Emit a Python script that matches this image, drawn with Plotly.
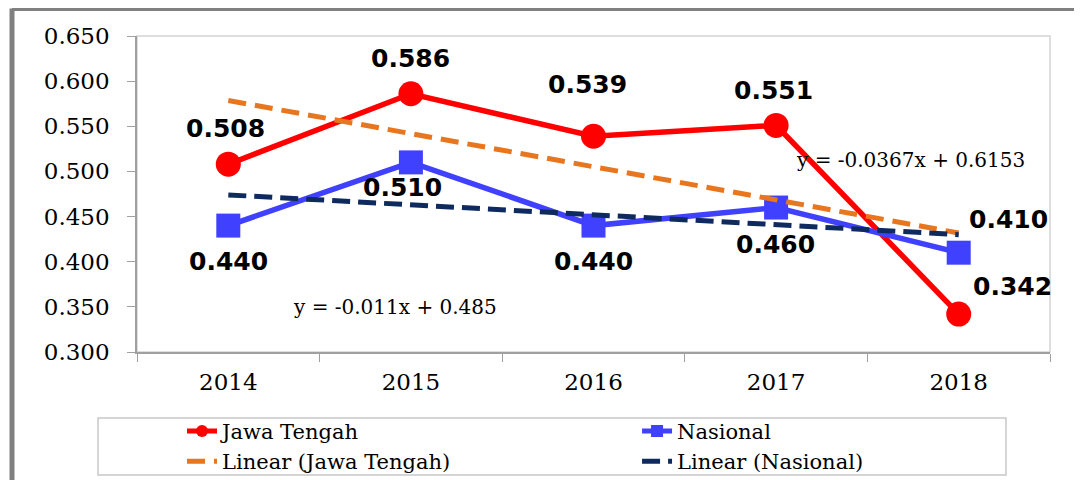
import numpy as np
import plotly.graph_objects as go

years = ["2014", "2015", "2016", "2017", "2018"]
jawa_tengah = [0.508, 0.586, 0.539, 0.551, 0.342]
nasional = [0.440, 0.510, 0.440, 0.460, 0.410]

# label offsets (px) relative to each point
jt_label_shift = [(-3, 36), (0, 35), (-6, 52), (-3, 35), (54, 28)]
na_label_shift = [(0, -36), (-8, -25), (0, -36), (-1, -37), (50, 33)]

xi = np.arange(1, len(years) + 1)
jt_fit = np.polyfit(xi, jawa_tengah, 1)
na_fit = np.polyfit(xi, nasional, 1)
jt_trend = np.polyval(jt_fit, xi)
na_trend = np.polyval(na_fit, xi)

RED = "#FF0000"
BLUE = "#4040FF"
ORANGE = "#E8761E"
NAVY = "#0E2A5F"

fig = go.Figure()
fig.add_trace(go.Scatter(x=years, y=jawa_tengah, name="Jawa Tengah", mode="lines+markers",
                         line=dict(color=RED, width=5.5), legend="legend",
                         marker=dict(symbol="circle", size=25, color=RED)))
fig.add_trace(go.Scatter(x=years, y=nasional, name="Nasional", mode="lines+markers",
                         line=dict(color=BLUE, width=5.5), legend="legend2",
                         marker=dict(symbol="square", size=24, color=BLUE)))
fig.add_trace(go.Scatter(x=years, y=jt_trend, name="Linear (Jawa Tengah)", mode="lines",
                         legend="legend",
                         line=dict(color=ORANGE, width=5, dash="18px,9px")))
fig.add_trace(go.Scatter(x=years, y=na_trend, name="Linear (Nasional)", mode="lines",
                         legend="legend2",
                         line=dict(color=NAVY, width=5, dash="18px,8px")))

LABEL_FONT = dict(family="DejaVu Sans", size=25, color="black", weight="bold")
annotations = []
for i, (v, (dx, dy)) in enumerate(zip(jawa_tengah, jt_label_shift)):
    annotations.append(dict(x=i, y=v, xref="x", yref="y", text=f"{v:.3f}", showarrow=False,
                            xshift=dx, yshift=dy, xanchor="center", yanchor="middle", font=LABEL_FONT))
for i, (v, (dx, dy)) in enumerate(zip(nasional, na_label_shift)):
    annotations.append(dict(x=i, y=v, xref="x", yref="y", text=f"{v:.3f}", showarrow=False,
                            xshift=dx, yshift=dy, xanchor="center", yanchor="middle", font=LABEL_FONT))

def eq_text(fit, nd):
    return f"y = {fit[0]:.{nd}f}x + {fit[1]:.{nd}f}"

EQ_FONT = dict(family="DejaVu Serif", size=20, color="black")
annotations.append(dict(xref="paper", yref="paper", x=0.8467, y=0.6076, showarrow=False,
                        xanchor="center", yanchor="middle", text=eq_text(jt_fit, 4), font=EQ_FONT))
annotations.append(dict(xref="paper", yref="paper", x=0.2826, y=0.1424, showarrow=False,
                        xanchor="center", yanchor="middle", text=eq_text(na_fit, 3), font=EQ_FONT))

FRAME_TOP = 1.087
shapes = [
    # plot-area border (light)
    dict(type="rect", xref="paper", yref="paper", x0=0, y0=0, x1=1, y1=1,
         line=dict(color="#D4D4D4", width=1.5), layer="below"),
    # legend box
    dict(type="rect", xref="paper", yref="paper", x0=-0.0427, x1=0.9518, y0=-0.2089, y1=-0.3892,
         line=dict(color="#C8C8C8", width=1.5), fillcolor="white", layer="below"),
    # outer frame (gray)
    dict(type="line", xref="paper", yref="paper", x0=-0.1369, x1=-0.1369, y0=FRAME_TOP, y1=-0.45,
         line=dict(color="#808080", width=5)),
    dict(type="line", xref="paper", yref="paper", x0=-0.1369, x1=1.0329, y0=FRAME_TOP, y1=FRAME_TOP,
         line=dict(color="#808080", width=5)),
    dict(type="line", xref="paper", yref="paper", x0=1.0329, x1=1.0329, y0=FRAME_TOP, y1=-0.45,
         line=dict(color="#808080", width=5)),
]

LEG = dict(orientation="v", yanchor="top", xanchor="left", itemsizing="constant",
           bgcolor="rgba(0,0,0,0)", borderwidth=0, tracegroupgap=0,
           font=dict(family="DejaVu Serif", size=21, color="black"))

fig.update_layout(
    width=1082, height=480,
    margin=dict(l=129, r=40, t=28, b=136, autoexpand=False),
    paper_bgcolor="white", plot_bgcolor="white",
    showlegend=True,
    legend=dict(LEG, x=0.0493, y=-0.186),
    legend2=dict(LEG, x=0.5477, y=-0.186),
    annotations=annotations,
    shapes=shapes,
    font=dict(family="DejaVu Serif", color="black"),
)
fig.update_xaxes(type="category", range=[-0.5, 4.5], showgrid=False, zeroline=False,
                 showline=True, linecolor="#A0A0A0", linewidth=1.5,
                 ticks="outside", tickson="boundaries", ticklen=8, tickcolor="#A0A0A0",
                 ticklabelstandoff=9,
                 tickfont=dict(family="DejaVu Serif", size=23, color="black"))
fig.update_yaxes(range=[0.3, 0.65], dtick=0.05, tickformat=".3f", showgrid=False, zeroline=False,
                 showline=True, linecolor="#A0A0A0", linewidth=1.5,
                 ticks="outside", ticklen=8, tickcolor="#A0A0A0",
                 ticklabelstandoff=13,
                 tickfont=dict(family="DejaVu Serif", size=23, color="black"))

fig.write_html("out.html")
